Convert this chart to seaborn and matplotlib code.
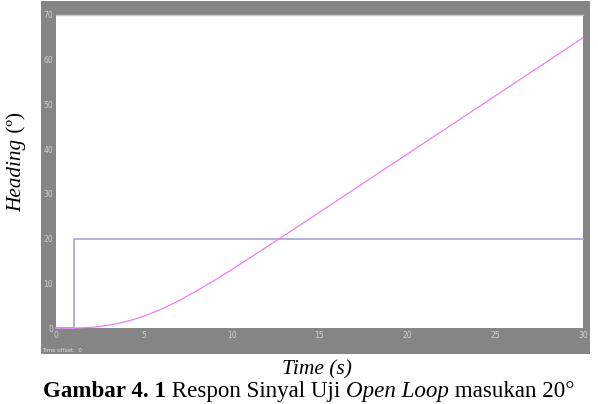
import matplotlib
matplotlib.use("Agg")
import matplotlib.pyplot as plt
import seaborn as sns
import pandas as pd
from matplotlib.patches import Rectangle

# ---- data ----
step_t = [0, 1, 1, 30]
step_v = [0, 0, 20, 20]

resp_t = [0, 1, 1.5, 2, 2.5, 3, 3.5, 4, 4.5, 5, 6, 7, 8, 9, 10, 11, 12, 13,
          14, 15, 16, 17, 18, 19, 20, 21, 22, 23, 24, 25, 26, 27, 28, 29, 30]
resp_v = [0, 0, 0.04, 0.15, 0.35, 0.63, 1.0, 1.45, 2.0, 2.65, 4.2, 6.1, 8.3,
          10.6, 13.05, 15.6, 18.15, 20.7, 23.3, 25.9, 28.5, 31.1, 33.7, 36.3,
          38.9, 41.5, 44.1, 46.7, 49.3, 51.9, 54.5, 57.1, 59.7, 62.3, 64.9]

xticks = [0, 5, 10, 15, 20, 25, 30]
yticks = [0, 10, 20, 30, 40, 50, 60, 70]

sns.set_theme(style="white")
plt.rcParams['font.family'] = ['DejaVu Sans']

W, H = 598, 404
fig = plt.figure(figsize=(W / 100, H / 100), dpi=100)
fig.patch.set_facecolor('white')

# gray scope panel
fig.patches.append(Rectangle((41 / W, 1 - 354 / H), (590 - 41) / W, (354 - 1) / H,
                             transform=fig.transFigure, facecolor='#858585',
                             edgecolor='none', zorder=-5))

ax = fig.add_axes([56 / W, 1 - 328 / H, (583 - 56) / W, (328 - 15) / H])
ax.set_zorder(2)
ax.set_facecolor('white')

df_step = pd.DataFrame({'t': step_t, 'v': step_v})
df_resp = pd.DataFrame({'t': resp_t, 'v': resp_v})
sns.lineplot(data=df_step, x='t', y='v', ax=ax, estimator=None, sort=False,
             color='#b2b0e0', linewidth=1.4)
sns.lineplot(data=df_resp, x='t', y='v', ax=ax, estimator=None, sort=False,
             color='#ec80ec', linewidth=0.9)
for ln in ax.get_lines():
    ln.set_clip_on(False)

ax.set_xlim(0, 30)
ax.set_ylim(0, 70)
ax.set_xticks(xticks)
ax.set_yticks(yticks)
ax.set_xticklabels([str(v) for v in xticks])
ax.set_yticklabels([str(v) for v in yticks])
ax.tick_params(axis='both', length=0, labelsize=5.5, colors='#d0d0d0', pad=2)
ax.set_xlabel('')
ax.set_ylabel('')
for s in ax.spines.values():
    s.set_visible(False)
ax.spines['top'].set_visible(True)
ax.spines['top'].set_color('#c8c8c8')
ax.spines['top'].set_linewidth(1.0)

fig.text(42 / W, 1 - 350 / H, 'Time offset:  0', fontsize=4, color='#e0e0e0',
         ha='left', va='center', zorder=3)

serif = ['Liberation Serif', 'DejaVu Serif']

fig.canvas.draw()
r = fig.canvas.get_renderer()


def chain(pieces, x0, y0, fs, rotation=0):
    """Place text pieces consecutively; centre the whole group at (x0, y0) in px."""
    texts = []
    for s, style, weight in pieces:
        t = fig.text(0, 0, s, fontsize=fs, family=serif, style=style,
                     weight=weight, color='black', rotation=rotation,
                     ha='left', va='baseline' if rotation == 0 else 'center',
                     rotation_mode='anchor' if rotation else 'default')
        texts.append(t)
    fig.canvas.draw()
    widths = [t.get_window_extent(r).width if rotation == 0 else t.get_window_extent(r).height
              for t in texts]
    total = sum(widths)
    pos = -total / 2
    for t, w in zip(texts, widths):
        if rotation == 0:
            t.set_position(((x0 + pos) / W, y0 / H))
        else:
            t.set_position((x0 / W, (y0 + pos) / H))
        pos += w
    return texts

# x label (italic)
chain([('Time (s)', 'italic', 'normal')], 317, H - 374, 15.5)
# caption
chain([('Gambar 4. 1', 'normal', 'bold'),
       (' Respon Sinyal Uji ', 'normal', 'normal'),
       ('Open Loop', 'italic', 'normal'),
       (' masukan 20°', 'normal', 'normal')], 309, H - 397, 16.6)
# y label, rotated
chain([('Heading', 'italic', 'normal'),
       (' (º)', 'normal', 'normal')], 17, H - 162, 15.3, rotation=90)

fig.savefig('out.png', dpi=100)
